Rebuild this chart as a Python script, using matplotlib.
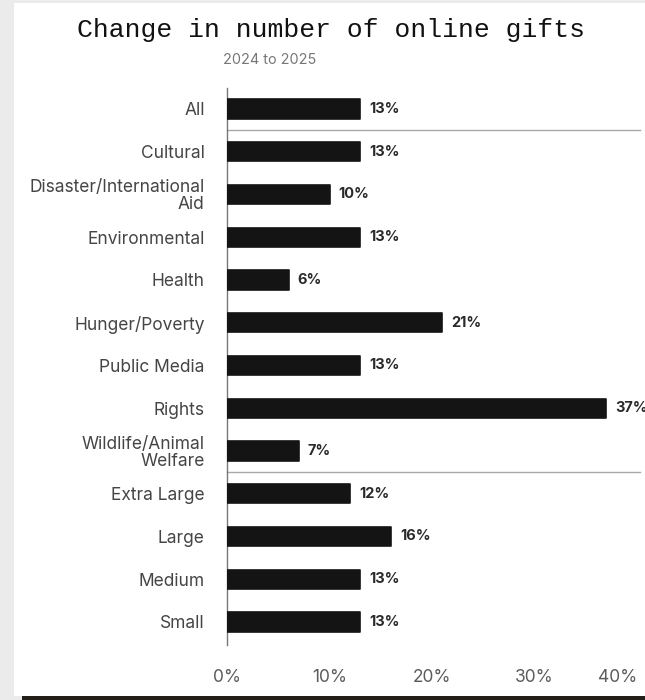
import matplotlib
matplotlib.use("Agg")
import matplotlib.pyplot as plt
from matplotlib.patches import Rectangle

categories = ["All", "Cultural", "Disaster/International\nAid", "Environmental", "Health",
              "Hunger/Poverty", "Public Media", "Rights", "Wildlife/Animal\nWelfare",
              "Extra Large", "Large", "Medium", "Small"]
values = [13, 13, 10, 13, 6, 21, 13, 37, 7, 12, 16, 13, 13]
xticks = [0, 10, 20, 30, 40]
xtick_labels = ["0%", "10%", "20%", "30%", "40%"]
separators_after = [0, 8]

W, H = 645, 700
fig = plt.figure(figsize=(W / 100, H / 100), dpi=100)
fig.patch.set_facecolor("#ebebeb")
# white panel
fig.add_artist(Rectangle((14 / W, 4 / H), 1 - 14 / W, 1 - 7 / H, transform=fig.transFigure,
                         facecolor="white", edgecolor="none", zorder=0))
# dark strip at bottom
fig.add_artist(Rectangle((22 / W, 0), 1 - 22 / W, 4 / H, transform=fig.transFigure,
                         facecolor="#231f18", edgecolor="none", zorder=0))

left, right = 227 / W, 637 / W
top, bottom = 1 - 88 / H, 1 - 645 / H
ax = fig.add_axes([left, bottom, right - left, top - bottom])
ax.set_facecolor("none")

ypos = list(range(len(categories)))
ax.barh(ypos, values, height=0.45, color="#141414", edgecolor="#141414",
        linewidth=1.2, joinstyle="round", zorder=3)

for y, v in zip(ypos, values):
    ax.text(v + 0.9, y, f"{v}%", va="center", ha="left", fontsize=10.5,
            fontweight="bold", color="#2a2a2a", family="Inter", zorder=4)

for s in separators_after:
    ax.plot([0, 40.3], [s + 0.5, s + 0.5], color="#a8a8a8", lw=1.0, zorder=2,
            clip_on=False)

ax.set_ylim(12.54, -0.49)
ax.set_xlim(0, 40)
ax.set_yticks(ypos)
ax.set_yticklabels(categories, fontsize=12.5, color="#454545", family="Inter",
                   linespacing=1.0)
ax.set_xticks(xticks)
ax.set_xticklabels(xtick_labels, fontsize=12.5, color="#5c5c5c", family="Inter")
ax.tick_params(axis="y", length=0, pad=16)
ax.tick_params(axis="x", length=0, pad=17)
for lbl in ax.get_xticklabels()[-1:]:
    lbl.set_horizontalalignment("right")
    lbl.set_x(40.5)

for sp in ["top", "right", "bottom"]:
    ax.spines[sp].set_visible(False)
ax.spines["left"].set_color("#777777")
ax.spines["left"].set_linewidth(1.0)

fig.text(331 / W, 1 - 30 / H, "Change in number of online gifts", ha="center", va="center",
         fontsize=19, family="Liberation Mono", color="#111111")
fig.text(270 / W, 1 - 60 / H, "2024 to 2025", ha="center", va="center",
         fontsize=10.4, family="Inter", color="#777777")

fig.savefig("out.png", dpi=100)
